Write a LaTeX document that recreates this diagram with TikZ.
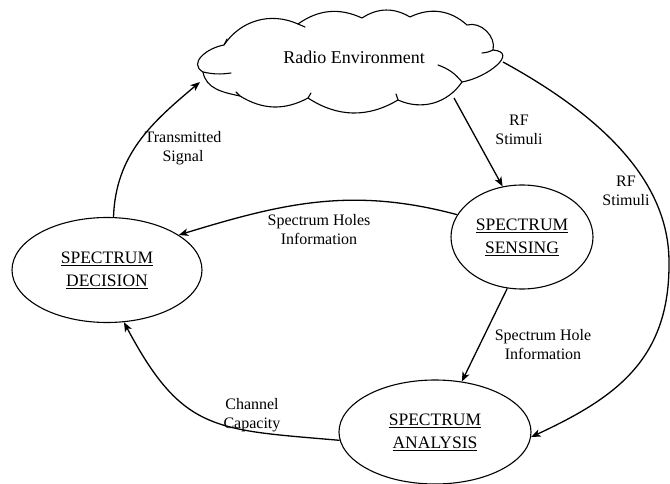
\documentclass[tikz,border=0pt]{standalone}
\usepackage{fontspec}
\setmainfont{Liberation Serif}
\usetikzlibrary{shapes.geometric,arrows.meta}
\tikzset{
  stage/.style={ellipse, draw, line width=1.1pt, align=center, inner sep=0pt,
    font=\fontsize{17.5}{23}\selectfont},
  lbl/.style={align=center, inner sep=0pt, font=\fontsize{16}{19}\selectfont},
  arr/.style={line width=1.3pt, -{Stealth[length=9.5pt,width=7.5pt,inset=2.5pt]}},
  cloudline/.style={line width=1.1pt, line join=round, line cap=round},
  envtext/.style={inner sep=0pt, font=\fontsize{18}{22}\selectfont}
}
\begin{document}
\begin{tikzpicture}[x=1pt,y=-1pt]
\useasboundingbox (0,0) rectangle (670,484);
% cloud outline points
\coordinate (j1) at (203,72);
\coordinate (j2) at (224,45);
\coordinate (j3) at (298,24);
\coordinate (j4) at (362,18);
\coordinate (j5) at (410,17);
\coordinate (j6) at (467,25);
\coordinate (j7) at (493,50);
\coordinate (j8) at (462,82);
\coordinate (j9) at (398,100);
\coordinate (j10) at (308,98);
\coordinate (j11) at (240,96);
\coordinate (cloudSE) at (454,98);
\coordinate (cloudE) at (503,62);
\coordinate (cloudW) at (200,82);
\draw[cloudline]
  (j1) to[out=150,in=190,looseness=1.3] (j2)
  to[bend left=40] (j3)
  to[bend left=30] (j4)
  to[bend left=32] (j5)
  to[bend left=34] (j6)
  to[bend left=60] (j7)
  to[out=-5,in=10,looseness=1.5] (j8)
  to[bend left=40] (j9)
  to[bend left=32] (j10)
  to[bend left=30] (j11)
  to[out=168,in=-80] (j1);
% inner curls of the cloud
\draw[cloudline] (j1) to[bend right=10] (231,73);
\draw[cloudline] (j8) to[bend right=15] (438,65);
\draw[cloudline] (j7) to[bend left=10] (482,53);
\draw[cloudline] (j2) -- (227,39);
\draw[cloudline] (j3) -- (305,27);
\draw[cloudline] (j9) -- (396,94);
\draw[cloudline] (j10) -- (311,93);
\draw[cloudline] (j11) -- (236,92);
\node[envtext] (cloud) at (354,57) {Radio Environment};
% stages
\node[stage, minimum width=142pt, minimum height=104pt] (sense) at (522,237)
  {\underline{SPECTRUM}\\\underline{SENSING}};
\node[stage, minimum width=190pt, minimum height=105pt] (dec) at (107,270)
  {\underline{SPECTRUM}\\\underline{DECISION}};
\node[stage, minimum width=192pt, minimum height=104pt] (ana) at (435,432)
  {\underline{SPECTRUM}\\\underline{ANALYSIS}};
\coordinate (rfmid) at (669,262);
% connectors
\draw[arr] (cloudSE) -- (sense.111);
\draw[arr] (cloudE) .. controls (600,115) and (669,180) .. (rfmid)
  .. controls (670,360) and (615,398) .. (ana.-3);
\draw[arr] (sense.161) to[out=165,in=17] (dec.26);
\draw[arr] (sense.-106) -- (ana.62);
\draw[arr] (ana.185) to[out=175,in=-62,looseness=1.3] (dec.-72);
\draw[arr] (dec.83) to[out=88,in=-140] (cloudW);
% labels
\node[lbl] (l1) at (519,130) {RF\\Stimuli};
\node[lbl] (l2) at (626,191) {RF\\Stimuli};
\node[lbl] (l3) at (319,230) {Spectrum Holes\\Information};
\node[lbl] (l4) at (543,345) {Spectrum Hole\\Information};
\node[lbl] (l5) at (252,415) {Channel\\Capacity};
\node[lbl] (l6) at (183,148) {Transmitted\\Signal};
\end{tikzpicture}
\end{document}
